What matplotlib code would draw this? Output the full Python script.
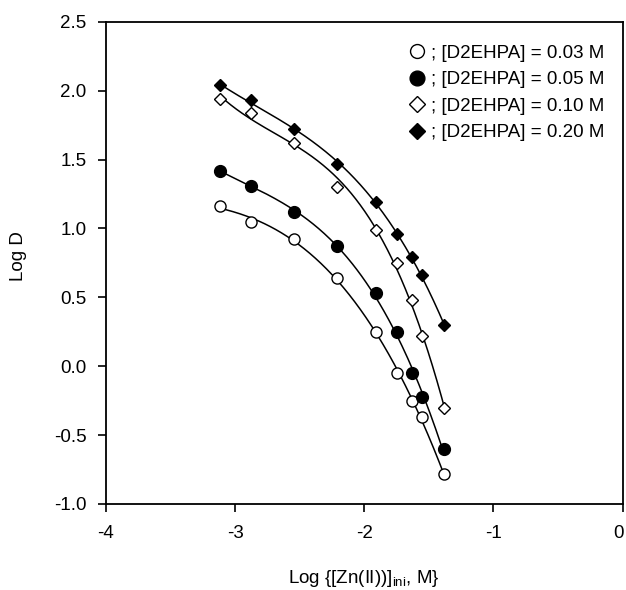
import numpy as np
import matplotlib
matplotlib.use("Agg")
import matplotlib.pyplot as plt
import matplotlib.transforms as mtransforms

plt.rcParams["font.family"] = ["Liberation Sans", "DejaVu Sans"]
plt.rcParams["axes.unicode_minus"] = False

# log of initial Zn(II) concentration
log_zn = [-3.12, -2.88, -2.545, -2.21, -1.91, -1.748, -1.632, -1.554, -1.385]

# Log D for each D2EHPA concentration
d_003 = [1.16, 1.05, 0.92, 0.64, 0.25, -0.05, -0.25, -0.37, -0.78]
d_005 = [1.42, 1.31, 1.12, 0.87, 0.53, 0.25, -0.05, -0.22, -0.60]
d_010 = [1.94, 1.84, 1.62, 1.30, 0.99, 0.75, 0.48, 0.22, -0.30]
d_020 = [2.04, 1.93, 1.72, 1.47, 1.19, 0.96, 0.79, 0.66, 0.30]

labels = ["; [D2EHPA] = 0.03 M", "; [D2EHPA] = 0.05 M",
          "; [D2EHPA] = 0.10 M", "; [D2EHPA] = 0.20 M"]

fig = plt.figure(figsize=(6.26, 5.9), dpi=100)
ax = fig.add_axes([0.169, 0.1458, 0.8257, 0.8174])

styles = [
    dict(marker="o", mfc="white", ms=8),
    dict(marker="o", mfc="black", ms=8.5),
    dict(marker="D", mfc="white", ms=6.3),
    dict(marker="D", mfc="black", ms=6.3),
]

x = np.array(log_zn)
xs = np.linspace(x.min(), x.max(), 200)
for ys, st, lab in zip([d_003, d_005, d_010, d_020], styles, labels):
    # smooth trend line through each series
    coef = np.polyfit(x, ys, 3)
    ax.plot(xs, np.polyval(coef, xs), color="black", lw=1.1)
    ax.plot(x, ys, linestyle="none", mec="black", mew=1.0, color="black",
            label=lab, **st)

ax.set_xlim(-4, 0)
ax.set_ylim(-1.0, 2.5)
ax.set_xticks([-4, -3, -2, -1, 0])
ax.set_yticks(np.arange(-1.0, 2.51, 0.5))
ax.yaxis.set_major_formatter(matplotlib.ticker.FormatStrFormatter("%.1f"))
ax.tick_params(direction="out", length=6, width=1.2, labelsize=13.5)
ax.tick_params(axis="y", pad=8)
ax.tick_params(axis="x", pad=9)
for s in ax.spines.values():
    s.set_linewidth(1.3)

# nudge the "0" label so it stays inside the figure edge
last = ax.get_xticklabels()[-1]
last.set_transform(last.get_transform()
                   + mtransforms.ScaledTranslation(-4 / 100, 0, fig.dpi_scale_trans))

ax.set_xlabel("Log {[Zn(II))]$_{\\mathregular{ini}}$, M}", fontsize=13.5)
ax.set_ylabel("Log D", fontsize=13.5)
ax.xaxis.set_label_coords(0.5, -0.132)
ax.yaxis.set_label_coords(-0.153, 0.514)

ax.legend(loc="upper right", bbox_to_anchor=(0.99, 0.98), frameon=False,
          fontsize=13.5, handlelength=0.8, handletextpad=0.35, labelspacing=0.5,
          markerscale=1.25, borderpad=0.2)

fig.savefig("out.png", dpi=100)
